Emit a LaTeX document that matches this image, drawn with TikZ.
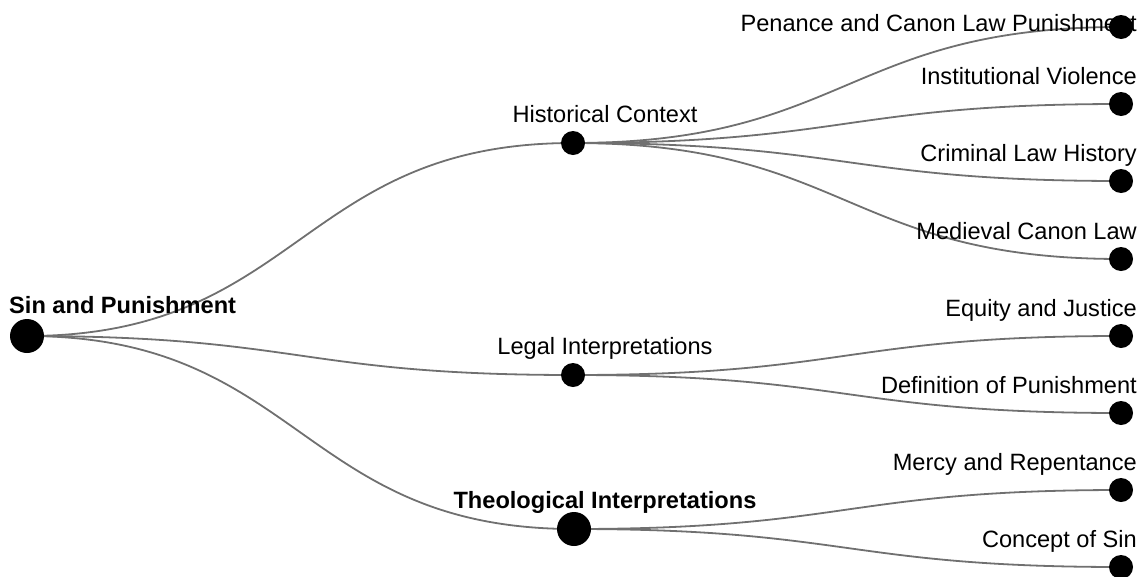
\documentclass[tikz,border=0pt]{standalone}
\usepackage{fontspec}
\setmainfont{Liberation Sans}
\usetikzlibrary{calc,backgrounds}
\definecolor{linkgray}{RGB}{112,112,112}
\def\branch(#1)(#2){\draw[line width=1.8pt, color=linkgray] let \p1=(#1), \p2=(#2) in (\p1) .. controls ({(\x1+\x2)/2},\y1) and ({(\x1+\x2)/2},\y2) .. (\p2);}

\begin{document}
\begin{tikzpicture}[x=1pt, y=-1pt,
		dot/.style={circle, fill=black, inner sep=0pt, minimum size=24pt},
		bigdot/.style={dot, minimum size=34pt},
		leaftext/.style={anchor=base east, inner sep=0pt, font=\fontsize{23.6}{28}\selectfont},
		midtext/.style={anchor=base, inner sep=0pt, font=\fontsize{23.6}{28}\selectfont}]
			%%%%% START %%%%%
			\useasboundingbox (0, 0) rectangle (1143, 576);
			
			\node[bigdot] (sin) at (27, 336) {};
			
			\node[dot] (hist) at (573, 143) {};
			\node[dot] (legal) at (573, 375) {};
			\node[bigdot] (theo) at (574, 529) {};
			
			\node[dot] (penance) at (1121, 27) {};
			\node[dot] (violence) at (1121, 104) {};
			\node[dot] (criminal) at (1121, 181) {};
			\node[dot] (medieval) at (1121, 259) {};
			\node[dot] (equity) at (1121, 336) {};
			\node[dot] (definition) at (1121, 413) {};
			\node[dot] (mercy) at (1121, 490) {};
			\node[dot] (concept) at (1121, 567) {};
			
			\begin{pgfonlayer}{background}
			\branch(sin.center)(hist.center)
			\branch(sin.center)(legal.center)
			\branch(sin.center)(theo.center)
			
			\branch(hist.center)(penance.center)
			\branch(hist.center)(violence.center)
			\branch(hist.center)(criminal.center)
			\branch(hist.center)(medieval.center)
			
			\branch(legal.center)(equity.center)
			\branch(legal.center)(definition.center)
			
			\branch(theo.center)(mercy.center)
			\branch(theo.center)(concept.center)
			\end{pgfonlayer}
			
			\node[midtext, anchor=base west, font=\fontsize{23.6}{28}\selectfont\bfseries] (sin-t) at (9, 313) {Sin and Punishment};
			
			\node[midtext] (hist-t) at (605, 122) {Historical Context};
			\node[midtext] (legal-t) at (605, 354) {Legal Interpretations};
			\node[midtext, font=\fontsize{23.6}{28}\selectfont\bfseries] (theo-t) at (605, 508) {Theological Interpretations};
			
			\node[leaftext] (penance-t) at (1137, 31) {Penance and Canon Law Punishment};
			\node[leaftext] (violence-t) at (1137, 84) {Institutional Violence};
			\node[leaftext] (criminal-t) at (1137, 161) {Criminal Law History};
			\node[leaftext] (medieval-t) at (1137, 239) {Medieval Canon Law};
			\node[leaftext] (equity-t) at (1137, 316) {Equity and Justice};
			\node[leaftext] (definition-t) at (1137, 393) {Definition of Punishment};
			\node[leaftext] (mercy-t) at (1137, 470) {Mercy and Repentance};
			\node[leaftext] (concept-t) at (1137, 547) {Concept of Sin};
			
			%%%%% END %%%%%
\end{tikzpicture}
\end{document}
